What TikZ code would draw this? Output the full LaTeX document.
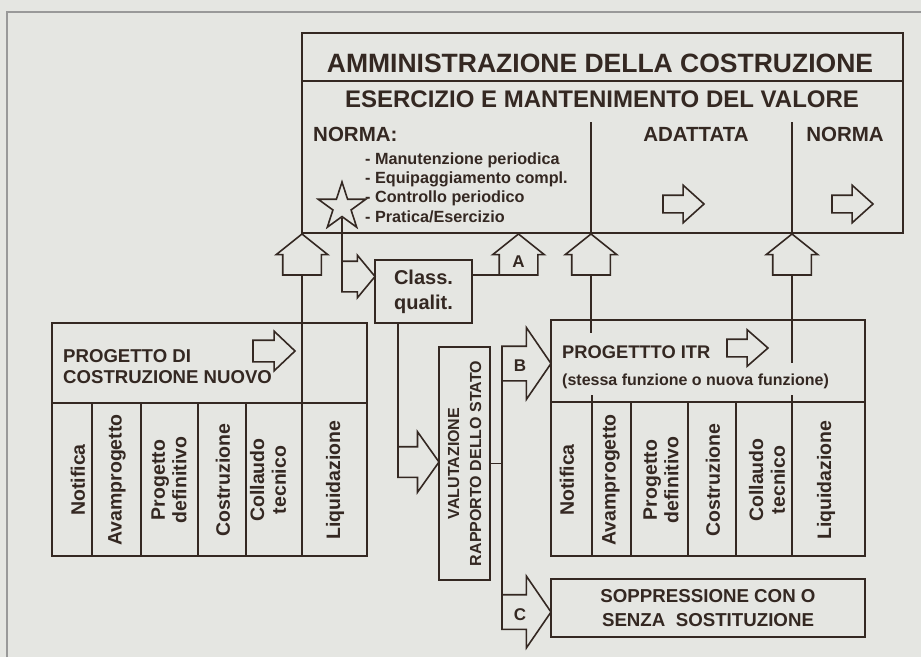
\documentclass[tikz,border=0pt]{standalone}
\usepackage{fontspec}
\setmainfont{Liberation Sans}
\usetikzlibrary{shapes.geometric, shapes.arrows, positioning}
\definecolor{ink}{RGB}{52,40,34}
\definecolor{paper}{RGB}{229,230,226}
\newcommand{\fsz}[2]{\fontsize{#1}{#2}\selectfont\bfseries}
\tikzset{
  box/.style={rectangle, draw=ink, line width=2.4pt, inner sep=0pt,
              outer sep=0pt, align=center, text=ink},
  conn/.style={draw=ink, line width=1.8pt},
  sepline/.style={draw=ink, line width=1.8pt},
  harr/.style n args={4}{single arrow, draw=ink, line width=1.6pt,
              inner xsep=0pt, inner ysep=#3, outer sep=0pt,
              minimum height=#1, minimum width=0pt,
              single arrow tip angle=#2, single arrow head extend=#4,
              single arrow head indent=0pt},
  collbl/.style={rotate=90, inner sep=0pt, align=center, text=ink,
                 font=\fsz{19.5}{21.7}},
  txt/.style={inner sep=0pt, text=ink},
}

\begin{document}
\begin{tikzpicture}[x=1pt, y=-1pt]
  \fill[paper] (0,0) rectangle (921,657);
  \useasboundingbox (0,0) rectangle (921,657);
  \draw[black!40, line width=1.2pt] (7,657) -- (7,12) -- (921,12);

  % Top: administration box
  \node[box, minimum width=601, minimum height=200] (admin) at (602.5,133) {};
  \draw[sepline] (302,81) -- (903,81);
  \node[txt, font=\fsz{26.5}{30}, anchor=base] (title) at (600,72) {AMMINISTRAZIONE DELLA COSTRUZIONE};
  \node[txt, font=\fsz{24}{28}, anchor=base] (subtitle) at (602,107) {ESERCIZIO E MANTENIMENTO DEL VALORE};
  \node[txt, font=\fsz{20.5}{24}, anchor=base west] (normaL) at (313,141) {NORMA:};
  \node[txt, font=\fsz{20.5}{24}, anchor=base] (adatt) at (696,141) {ADATTATA};
  \node[txt, font=\fsz{20.5}{24}, anchor=base] (normaR) at (845,141) {NORMA};
  \node[txt, font=\fsz{16.2}{19}, anchor=base west] (item1) at (365,164) {- Manutenzione periodica};
  \node[txt, font=\fsz{16.2}{19}, anchor=base west] (item2) at (365,183.3) {- Equipaggiamento compl.};
  \node[txt, font=\fsz{16.2}{19}, anchor=base west] (item3) at (365,202.6) {- Controllo periodico};
  \node[txt, font=\fsz{16.2}{19}, anchor=base west] (item4) at (365,222) {- Pratica/Esercizio};
  \node[harr={41}{84}{8}{10}, anchor=tip] (adaArr) at (704,204) {};
  \node[harr={41}{84}{8}{10}, anchor=tip] (normArr) at (873,204) {};
  \node[star, star points=5, star point ratio=2.618, draw=ink, line width=1.6pt,
        minimum size=50, inner sep=0pt] (star) at (342,207) {};

  % Up arrows into the top box
  \node[harr={41}{102.7}{18.5}{6.5}, rotate=90, anchor=tip] (upL)  at (302,234) {};
  \node[harr={41}{102.7}{18.5}{6.5}, rotate=90, anchor=tip] (aArr) at (518.5,234) {};
  \node[harr={41}{102.7}{18.5}{6.5}, rotate=90, anchor=tip] (upM)  at (591,234) {};
  \node[harr={41}{102.7}{18.5}{6.5}, rotate=90, anchor=tip] (upR)  at (792,234) {};
  \node[txt, font=\fsz{17}{20}] (labA) at ([yshift=13pt]aArr.tail) {A};

  % Quality class
  \node[box, minimum width=97, minimum height=63, font=\fsz{20}{25}] (class) at (423.5,291.5) {Class.\\qualit.};
  \node[harr={33}{100.7}{14.5}{6}, anchor=tip] (starArr) at (375,276.5) {};

  % New construction project
  \node[box, minimum width=315, minimum height=233] (newbox) at (209.5,439.5) {};
  \draw[sepline] (52,403) -- (367,403);
  \node[txt, font=\fsz{18.6}{21}, anchor=base west] (newT1) at (63,362) {PROGETTO DI};
  \node[txt, font=\fsz{18.6}{21}, anchor=base west] (newT2) at (63,383) {COSTRUZIONE NUOVO};
  \node[harr={42}{87}{10}{9}, anchor=tip] (newArr) at (295,351) {};
  \draw[sepline] (92,403) -- (92,556);
  \draw[sepline] (141,403) -- (141,556);
  \draw[sepline] (198,403) -- (198,556);
  \draw[sepline] (246,403) -- (246,556);
  \node[collbl] (nNot) at (78,480) {Notifica};
  \node[collbl] (nAva) at (117,480) {Avamprogetto};
  \node[collbl] (nPro) at (169,480) {Progetto\\definitivo};
  \node[collbl] (nCos) at (223,480) {Costruzione};
  \node[collbl] (nCol) at (268,480) {Collaudo\\tecnico};
  \node[collbl] (nLiq) at (335,480) {Liquidazione};

  % State assessment
  \node[box, minimum width=51, minimum height=233] (val) at (464.5,463.5) {};
  \node[collbl, font=\fsz{16}{22}] (valTxt) at (val.center) {VALUTAZIONE\\RAPPORTO DELLO STATO};
  \node[harr={41}{109.2}{14.5}{15}, anchor=tip] (valArr) at (439,462) {};
  \node[harr={49}{111.1}{16.5}{18.5}, anchor=tip] (bArr) at (551,363.5) {};
  \node[harr={49}{111.1}{16.5}{18.5}, anchor=tip] (cArr) at (551,612) {};
  \node[txt, font=\fsz{17}{20}] (labB) at ([xshift=18pt,yshift=-2pt]bArr.tail) {B};
  \node[txt, font=\fsz{17}{20}] (labC) at ([xshift=18pt,yshift=-3pt]cArr.tail) {C};

  % ITR project
  \node[box, minimum width=314, minimum height=236] (itr) at (708,438) {};
  \draw[sepline] (551,402) -- (865,402);
  \node[txt, font=\fsz{18.3}{22}, anchor=base west] (itrT1) at (562,358) {PROGETTTO ITR};
  \node[txt, font=\fsz{16}{20}, anchor=base west] (itrT2) at (562,385) {(stessa funzione o nuova funzione)};
  \node[harr={41}{82.4}{8}{9.5}, anchor=tip] (itrArr) at (768,348) {};
  \draw[sepline] (592,395) -- (592,556);
  \draw[sepline] (631,402) -- (631,556);
  \draw[sepline] (688,402) -- (688,556);
  \draw[sepline] (736,402) -- (736,556);
  \draw[sepline] (792,395) -- (792,556);
  \node[collbl] (iNot) at (567,480) {Notifica};
  \node[collbl] (iAva) at (611,480) {Avamprogetto};
  \node[collbl] (iPro) at (661,480) {Progetto\\definitivo};
  \node[collbl] (iCos) at (713,480) {Costruzione};
  \node[collbl] (iCol) at (767,480) {Collaudo\\tecnico};
  \node[collbl] (iLiq) at (826,480) {Liquidazione};

  % Suppression
  \node[box, minimum width=314, minimum height=58, font=\fsz{18.7}{24}] (soppr) at (708,608) {SOPPRESSIONE CON O\\SENZA~ SOSTITUZIONE};

  % Connectors
  \draw[conn] (star.inner point 3) -- (starArr.tail);
  \draw[conn] (class.east |- aArr.tail) -- (aArr.tail);
  \draw[conn] (upL.tail) -- (upL.tail |- newbox.south);
  \draw[conn] (class.south -| valArr.tail) -- (valArr.tail);
  \draw[conn] (val.east) -- (val.east -| bArr.tail);
  \draw[conn] (bArr.tail) -- (cArr.tail);
  \draw[conn] (upM.tip) -- ++(0,-112);
  \draw[conn] (upR.tip) -- ++(0,-112);
  \draw[conn] (upM.tail) -- ([yshift=-13pt]upM.tail |- itr.north);
  \draw[conn] (upR.tail) -- ([yshift=-43pt]upR.tail |- itr.north);
\end{tikzpicture}
\end{document}
